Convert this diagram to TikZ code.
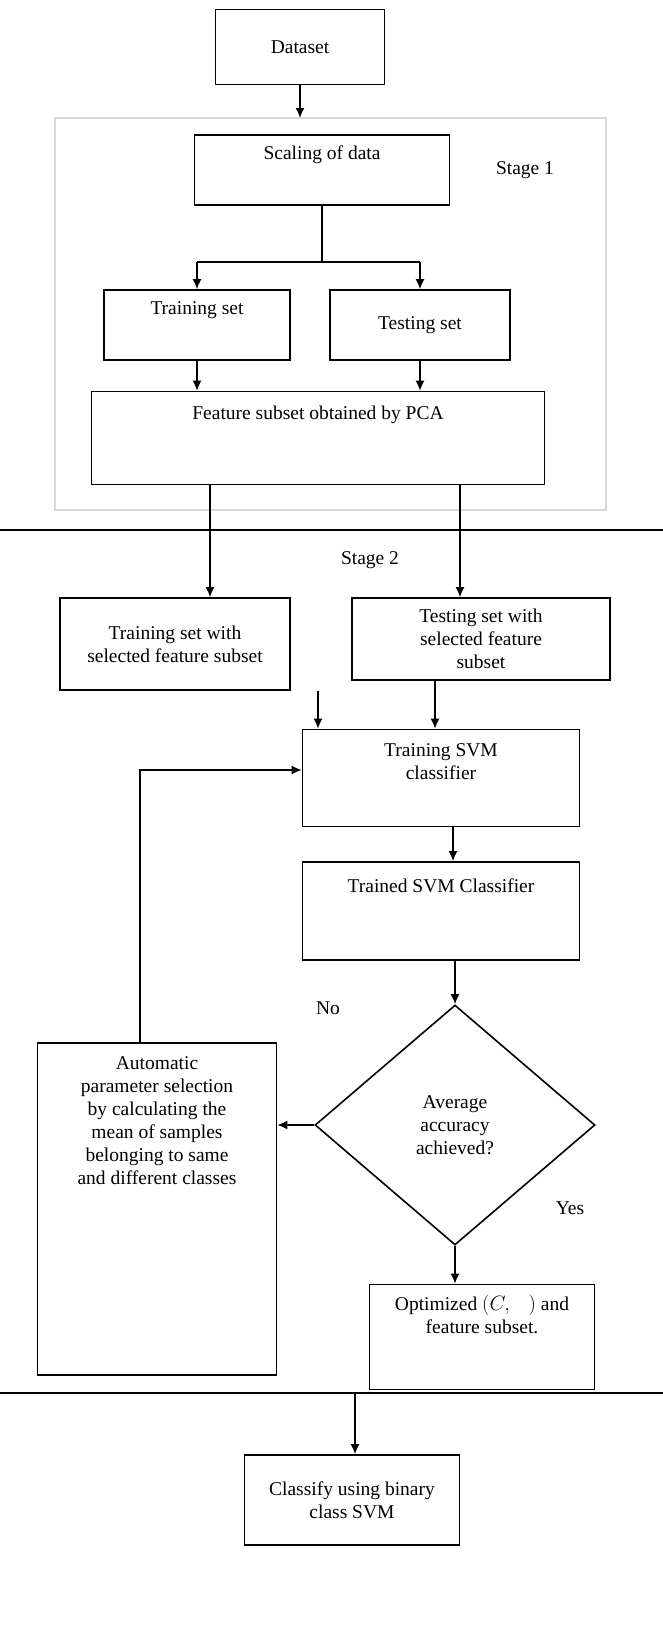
\documentclass[tikz,border=0pt]{standalone}
\usepackage{fontspec}
\setmainfont{Liberation Serif}
\usetikzlibrary{shapes.geometric,arrows.meta}

\tikzset{
  box/.style={draw,line width=1.6pt,align=center,inner sep=2pt},
  flow/.style={-{Latex[length=10pt,width=9pt]}},
}

\begin{document}
\begin{tikzpicture}[x=1pt,y=-1pt,font=\fontsize{19.5}{23}\selectfont,line width=1.6pt]
  \useasboundingbox (0,0) rectangle (662,1630);
  % stage frames
  \draw[gray!30] (55,118) rectangle (606,510);
  \draw (-2,530) rectangle (664,1393);
  \node (s1) at (525,170) {Stage 1};
  \node (s2) at (370,560) {Stage 2};
  % boxes
  \node[box,minimum width=169,minimum height=75] (data) at (300,47) {Dataset};
  \node[box,minimum width=255,minimum height=70] (scale) at (322,170) {Scaling of data\\[12pt]};
  \node[box,minimum width=186,minimum height=70] (train) at (197,325) {Training set\\[10pt]};
  \node[box,minimum width=180,minimum height=70] (test) at (420,325) {Testing set};
  \node[box,minimum width=453,minimum height=93] (feat) at (318,438) {Feature subset obtained by PCA\\[28pt]};
  \node[box,minimum width=230,minimum height=92] (trsel) at (175,644) {Training set with\\selected feature subset};
  \node[box,minimum width=258,minimum height=82] (tesel) at (481,639) {Testing set with\\selected feature\\subset};
  \node[box,minimum width=277,minimum height=97] (svm) at (441,778) {Training SVM\\classifier\\[10pt]};
  \node[box,minimum width=277,minimum height=98] (trained) at (441,911) {Trained SVM Classifier\\[28pt]};
  \node[draw,diamond,inner sep=0,minimum width=280,minimum height=240,align=center] (acc) at (455,1125) {Average\\accuracy\\achieved?};
  \node[box,minimum width=239,minimum height=332] (auto) at (157,1209) {};
  \node[align=center,anchor=north,inner sep=14pt] (autotxt) at (auto.north) {Automatic\\parameter selection\\by calculating the\\mean of samples\\belonging to same\\and different classes};
  \node[box,minimum width=225,minimum height=105] (opt) at (482,1337) {Optimized $(C,\mathit{\Upsilon})$ and\\feature subset.\\[22pt]};
  \node[box,minimum width=215,minimum height=90] (cls) at (352,1500) {Classify using binary\\class SVM};
  \node (no) at (328,1008) {No};
  \node (yes) at (570,1208) {Yes};
  % connectors
  \coordinate (top1) at (302,118);
  \coordinate (split) at (322,262);
  \coordinate (bot2) at (355,1393);
  \draw[flow] (data) -- (data.south |- top1);
  \draw (scale.south) -- (split);
  \draw (train.north |- split) -- (test.north |- split);
  \draw[flow] (train.north |- split) -- (train.north);
  \draw[flow] (test.north |- split) -- (test.north);
  \draw[flow] (train.south) -- (train.south |- feat.north);
  \draw[flow] (test.south) -- (test.south |- feat.north);
  \draw[flow] (feat.south -| trsel.north) ++(35,0) coordinate (fa) -- (fa |- trsel.north);
  \draw[flow] (feat.south -| 460,0) coordinate (fb) -- (fb |- tesel.north);
  \draw[flow] (trsel.south -| 318,0) coordinate (ta) -- (ta |- svm.north);
  \draw[flow] (tesel.south -| 435,0) coordinate (tb) -- (tb |- svm.north);
  \draw[flow] (svm.south -| 453,0) coordinate (sa) -- (sa |- trained.north);
  \draw[flow] (trained.south -| 455,0) coordinate (tc) -- (acc.north);
  \draw[flow] (acc.west) -- (auto.east |- acc.west);
  \draw[flow] (auto.north -| 140,0) coordinate (au) -- (140,770) -- (svm.west |- 0,770);
  \draw[flow] (acc.south) -- (acc.south |- opt.north);
  \draw[flow] (bot2) -- (cls.north -| bot2);
\end{tikzpicture}
\end{document}
